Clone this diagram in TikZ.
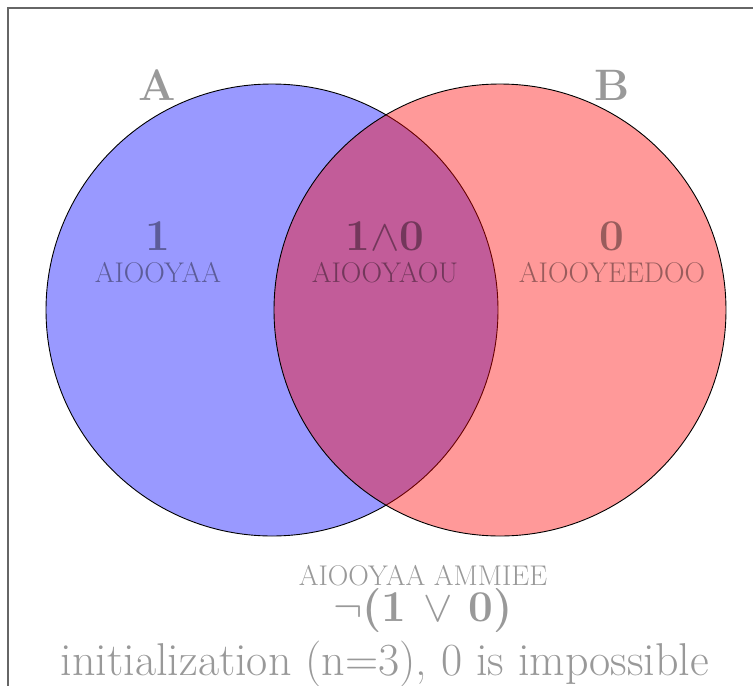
\documentclass[tikz,border=0pt]{standalone}
\usepackage{fontspec}
\begin{document}
\begin{tikzpicture}[x=1pt,y=-1pt,
  setcirc/.style={circle, draw=black, line width=0.9pt, minimum size=452pt, inner sep=0pt, fill opacity=0.4},
  biglbl/.style={text=black, text opacity=0.4, font=\fontsize{44}{48}\selectfont\bfseries, inner sep=0pt},
  smalllbl/.style={text=black, text opacity=0.4, font=\fontsize{28.5}{32}\selectfont, inner sep=0pt},
  caption/.style={text=black, text opacity=0.4, font=\fontsize{46}{50}\selectfont, inner sep=0pt}]
\newcommand\mop[1]{\scalebox{4.4}{\fontsize{10}{12}\selectfont$#1$}}
\useasboundingbox (0,0) rectangle (753,686);
\coordinate (fb) at (8,690);
\coordinate (ftl) at (8,8);
\coordinate (ftr) at (756,8);
\draw[line width=1.3pt, draw=black!60] (fb) -- (ftl) -- (ftr);
\node[setcirc, fill=blue] (A) at (272,310) {};
\node[setcirc, fill=red] (B) at (500,310) {};
\node[biglbl] (la) at (157,85) {A};
\node[biglbl] (lb) at (612,85) {B};
\node[biglbl] (nA) at (158,236) {1};
\node[smalllbl] (sA) at (158,273) {AIOOYAA};
\node[biglbl] (nAB) at (385,236) {1\mop{\wedge}0};
\node[smalllbl] (sAB) at (385,273) {AIOOYAOU};
\node[biglbl] (nB) at (612,236) {0};
\node[smalllbl] (sB) at (612,273) {AIOOYEEDOO};
\node[smalllbl] (bt) at (423,576) {AIOOYAA AMMIEE};
\node[biglbl] (neg) at (423,611) {\mop{\neg}(1 \mop{\vee} 0)};
\node[caption] (cap) at (385,664) {initialization (n=3), 0 is impossible};
\end{tikzpicture}
\end{document}
